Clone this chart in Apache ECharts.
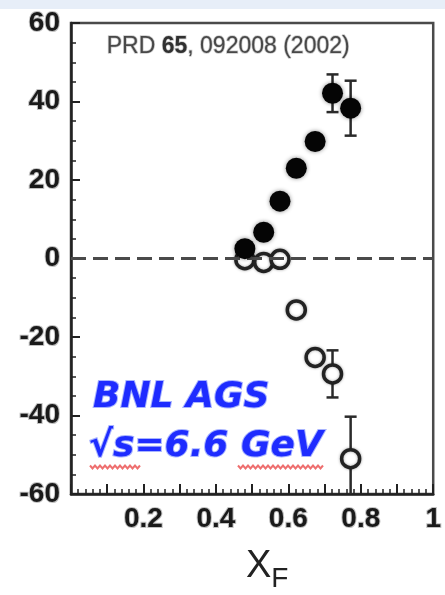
<!DOCTYPE html>
<html>
<head>
<meta charset="utf-8">
<script src="https://cdn.jsdelivr.net/npm/echarts@6/dist/echarts.min.js"></script>
<style>
  html, body { margin: 0; padding: 0; background: #ffffff; }
  #chart { width: 445px; height: 595px; }
</style>
</head>
<body>
<div id="chart"></div>
<script>
// Feynman-x positions shared by both data sets
const xF = [0.48, 0.532, 0.577, 0.622, 0.674, 0.722, 0.772];
// Analysing power A_N (%) — filled points and their errors
const anFilled = [2.5, 6.7, 14.6, 23.0, 29.8, 42.1, 38.3];
const errFilled = [1.2, 1.2, 1.2, 1.3, 1.5, 4.8, 7.0];
// Analysing power A_N (%) — open points and their errors
const anOpen = [-0.3, -1.0, -0.2, -13.1, -25.2, -29.4, -51.0];
const errOpen = [1.2, 1.2, 1.2, 1.5, 1.8, 6.0, 10.7];
// Tick labels
const xTickLabels = { '0.2': '0.2', '0.4': '0.4', '0.6': '0.6', '0.8': '0.8', '1': '1' };
const yTicks = [-60, -40, -20, 0, 20, 40, 60];

const filledData = xF.map((x, i) => [x, anFilled[i]]);
const openData = xF.map((x, i) => [x, anOpen[i]]);
const filledErr = xF.map((x, i) => [x, anFilled[i], errFilled[i]]);
const openErr = xF.map((x, i) => [x, anOpen[i], errOpen[i]]);

const halo = { textBorderColor: 'rgba(120,120,120,0.45)', textBorderWidth: 2 };

function errorBar(params, api) {
  const x = api.value(0), y = api.value(1), e = api.value(2);
  const top = api.coord([x, y + e]);
  const bot = api.coord([x, y - e]);
  const cw = 6;
  const style = { stroke: '#2a2a2a', lineWidth: 2.5 };
  return {
    type: 'group',
    children: [
      { type: 'line', shape: { x1: top[0], y1: top[1], x2: bot[0], y2: bot[1] }, style },
      { type: 'line', shape: { x1: top[0] - cw, y1: top[1], x2: top[0] + cw, y2: top[1] }, style },
      { type: 'line', shape: { x1: bot[0] - cw, y1: bot[1], x2: bot[0] + cw, y2: bot[1] }, style }
    ]
  };
}

function wavy(x0, x1, y) {
  const pts = [];
  let up = true;
  for (let x = x0; x <= x1; x += 2.5) { pts.push([x, y + (up ? -1.5 : 1.5)]); up = !up; }
  return pts;
}

const chart = echarts.init(document.getElementById('chart'), null, { renderer: 'canvas' });
chart.setOption({
  backgroundColor: '#ffffff',
  animation: false,
  grid: {
    left: 71, right: 3, top: 23, bottom: 101,
    show: true, borderColor: '#4a4a4a', borderWidth: 2.5, backgroundColor: 'transparent'
  },
  xAxis: {
    type: 'value', min: 0, max: 1, interval: 0.1,
    axisLine: { show: true, onZero: false, lineStyle: { color: '#222', width: 2.5 } },
    axisTick: { show: true, inside: true, length: 10, lineStyle: { color: '#222', width: 2 } },
    minorTick: { show: true, splitNumber: 5, length: 5, lineStyle: { color: '#222', width: 1.5 } },
    splitLine: { show: false },
    axisLabel: {
      margin: 11,
      fontFamily: '"Liberation Sans", Arial, sans-serif',
      fontWeight: 'bold', fontSize: 28, color: '#1a1a1a', ...halo,
      showMaxLabel: true,
      formatter: v => xTickLabels[String(Math.round(v * 10) / 10)] || ''
    }
  },
  yAxis: {
    type: 'value', min: -60, max: 60, interval: 20,
    axisLine: { show: true, onZero: false, lineStyle: { color: '#222', width: 2.5 } },
    axisTick: { show: true, inside: true, length: 9, lineStyle: { color: '#222', width: 2 } },
    minorTick: { show: true, splitNumber: 4, length: 5, lineStyle: { color: '#222', width: 1.5 } },
    splitLine: { show: false },
    axisLabel: {
      margin: 11,
      fontFamily: '"Liberation Sans", Arial, sans-serif',
      fontWeight: 'bold', fontSize: 28, color: '#1a1a1a', ...halo,
      formatter: v => (yTicks.includes(v) ? String(v) : '')
    }
  },
  series: [
    {
      type: 'line', data: [], silent: true,
      markLine: {
        silent: true, symbol: 'none', label: { show: false },
        lineStyle: { color: '#4a4a4a', width: 3, type: [15, 7] },
        data: [{ yAxis: 0 }]
      }
    },
    { type: 'custom', data: openErr, renderItem: errorBar, clip: true, z: 3 },
    { type: 'custom', data: filledErr, renderItem: errorBar, clip: true, z: 3 },
    {
      type: 'scatter', data: openData, symbol: 'circle', symbolSize: 18, z: 4,
      itemStyle: { opacity: 1, color: '#ffffff', borderColor: '#222', borderWidth: 3.5,
        shadowColor: 'rgba(0,0,0,0.35)', shadowBlur: 3 }
    },
    {
      type: 'scatter', data: filledData, symbol: 'circle', symbolSize: 21, z: 5,
      itemStyle: { opacity: 1, color: '#050505', shadowColor: 'rgba(0,0,0,0.45)', shadowBlur: 4 }
    }
  ],
  graphic: [
    { type: 'rect', shape: { x: 0, y: 0, width: 445, height: 9 }, style: { fill: '#e7eef8' }, z: 10 },
    {
      type: 'text', left: 106, top: 34, z: 10,
      style: {
        rich: {
          n: { fontFamily: '"Liberation Sans", Arial, sans-serif', fontSize: 23, fill: '#484848' },
          b: { fontFamily: '"Liberation Sans", Arial, sans-serif', fontSize: 23, fontWeight: 'bold', fill: '#303030' }
        },
        text: '{n|PRD }{b|65}{n|, 092008 (2002)}',
        stroke: 'rgba(150,150,150,0.5)', lineWidth: 1.5
      }
    },
    {
      type: 'text', left: 92, top: 379, z: 10,
      style: {
        text: 'BNL AGS', fontFamily: '"DejaVu Sans", sans-serif', fontSize: 36,
        fontWeight: 'bold', fontStyle: 'italic', fill: '#1e2cff',
        stroke: 'rgba(110,130,255,0.6)', lineWidth: 2
      }
    },
    {
      type: 'text', left: 88, top: 428, z: 10,
      style: {
        text: '\u221As=6.6 GeV', fontFamily: '"DejaVu Sans", sans-serif', fontSize: 36,
        fontWeight: 'bold', fontStyle: 'italic', fill: '#1e2cff',
        stroke: 'rgba(110,130,255,0.6)', lineWidth: 2
      }
    },
    { type: 'polyline', shape: { points: wavy(90, 140, 467) }, style: { stroke: '#ee6f6f', lineWidth: 2, fill: null }, z: 11 },
    { type: 'polyline', shape: { points: wavy(238, 323, 467) }, style: { stroke: '#ee6f6f', lineWidth: 2, fill: null }, z: 11 },
    {
      type: 'text', left: 246, top: 548, z: 10,
      style: {
        rich: {
          x: { fontFamily: '"Liberation Sans", Arial, sans-serif', fontSize: 38, fill: '#222' },
          s: { fontFamily: '"Liberation Sans", Arial, sans-serif', fontSize: 28, fill: '#222', padding: [24, 0, 0, 0] }
        },
        text: '{x|X}{s|F}'
      }
    }
  ]
});
</script>
</body>
</html>
